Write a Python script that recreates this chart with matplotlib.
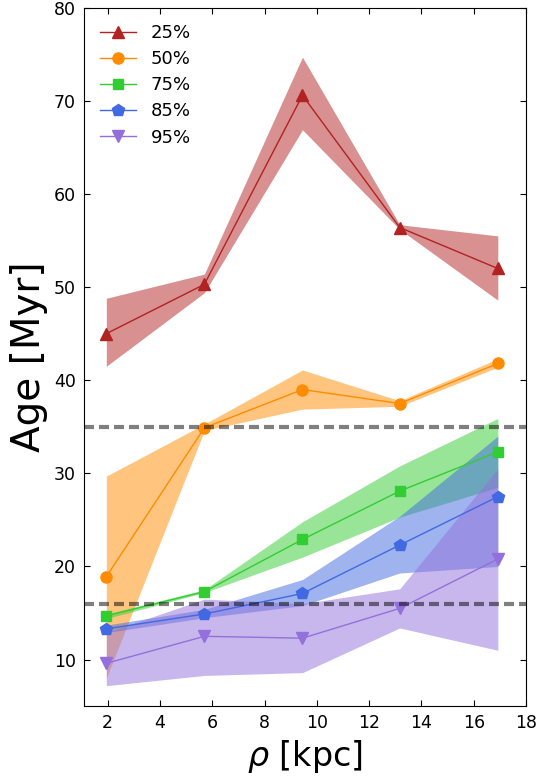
import numpy as np
import matplotlib
matplotlib.use('Agg')
import matplotlib.pyplot as plt

# =============================================================================
# Data (age percentiles vs. projected radius)
# =============================================================================
rho = [1.95, 5.7, 9.45, 13.17, 16.92]

age25 = [45.0, 50.3, 70.6, 56.4, 52.0]
lo25 = [41.5, 49.4, 66.9, 56.2, 48.6]
hi25 = [48.8, 51.4, 74.7, 56.7, 55.5]

age50 = [18.9, 34.9, 39.0, 37.5, 41.8]
lo50 = [8.0, 34.6, 36.9, 37.2, 41.4]
hi50 = [29.7, 35.3, 41.1, 37.8, 42.3]

age75 = [14.7, 17.3, 22.9, 28.1, 32.3]
lo75 = [14.4, 17.2, 21.0, 25.3, 28.5]
hi75 = [14.9, 17.5, 24.8, 30.8, 35.9]

age85 = [13.3, 14.9, 17.1, 22.3, 27.5]
lo85 = [12.9, 14.5, 15.8, 19.3, 20.0]
hi85 = [13.7, 15.4, 18.6, 25.4, 34.0]

age95 = [9.6, 12.5, 12.3, 15.5, 20.8]
lo95 = [7.2, 8.3, 8.6, 13.4, 11.0]
hi95 = [12.9, 16.5, 16.0, 17.6, 30.5]

labels = ['25%', '50%', '75%', '85%', '95%']
hlines = [35, 16]

# =============================================================================
# Plot
# =============================================================================
fig = plt.figure(figsize=(5.39, 7.76), dpi=100)
ax = fig.add_axes([0.156, 0.090, 0.820, 0.900])

series = [(age25, lo25, hi25, 'firebrick', '^', 8),
          (age50, lo50, hi50, 'darkorange', 'o', 8),
          (age75, lo75, hi75, 'limegreen', 's', 7.5),
          (age85, lo85, hi85, 'royalblue', 'p', 9),
          (age95, lo95, hi95, 'mediumpurple', 'v', 9)]

for (y, lo, hi, c, m, ms), lab in zip(series, labels):
    ax.fill_between(rho, lo, hi, color=c, alpha=0.5, lw=0)
    ax.plot(rho, y, color=c, marker=m, ms=ms, mec=c, lw=1, label=lab)

for h in hlines:
    ax.axhline(h, color='k', alpha=0.5, lw=3, linestyle=(0, (2.4, 1.2)))

ax.set_xlim(1.1, 18)
ax.set_ylim(5, 80)
ax.set_xticks(np.arange(2, 19, 2))
ax.set_yticks(np.arange(10, 81, 10))
ax.tick_params(direction='in', top=True, right=True, length=4,
               labelsize=12.5, pad=6)
ax.set_xlabel(r'$\rho$ [kpc]', fontsize=24)
ax.set_ylabel('Age [Myr]', fontsize=28)
ax.legend(loc='upper left', frameon=False, numpoints=1, fontsize=13,
          handlelength=2.0, labelspacing=0.45, borderaxespad=0.5)

fig.savefig('out.png', dpi=100)
